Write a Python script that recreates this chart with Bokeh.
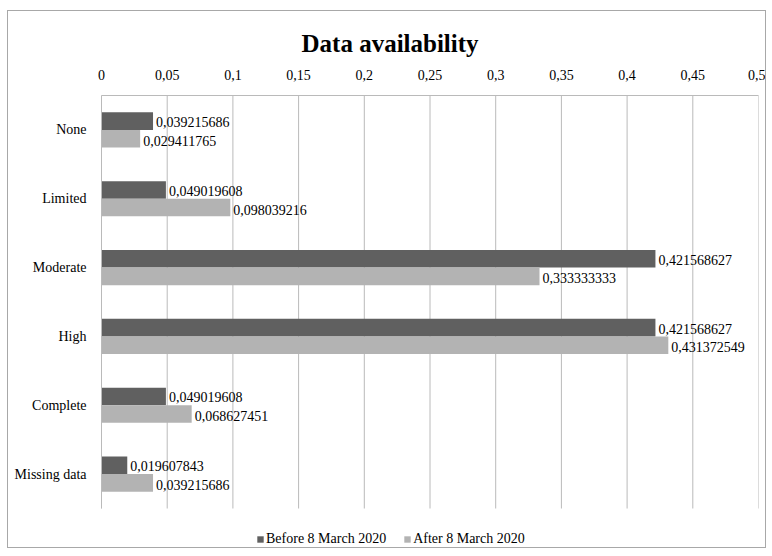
from bokeh.plotting import figure
from bokeh.models import (ColumnDataSource, Range1d, FixedTicker,
                          CustomJSTickFormatter, Legend, LegendItem, Title)
from bokeh.transform import dodge
from bokeh.core.properties import value
from bokeh.embed import file_html
from bokeh.resources import INLINE

categories = ["None", "Limited", "Moderate", "High", "Complete", "Missing data"]
before = [0.039215686, 0.049019608, 0.421568627, 0.421568627, 0.049019608, 0.019607843]
after = [0.029411765, 0.098039216, 0.333333333, 0.431372549, 0.068627451, 0.039215686]
x_ticks = [0, 0.05, 0.1, 0.15, 0.2, 0.25, 0.3, 0.35, 0.4, 0.45, 0.5]
series_names = ["Before 8 March 2020", "After 8 March 2020"]

DARK = "#606060"
LIGHT = "#b3b3b3"
GRID = "#bababa"
FONT = "Liberation Serif"

def fmt(v):
    return f"{v:.9f}".replace(".", ",")

n = len(categories)
pos = [i + 0.5 for i in range(n)]
src = ColumnDataSource(dict(
    pos=pos, before=before, after=after,
    before_lbl=[fmt(v) for v in before], after_lbl=[fmt(v) for v in after],
))
grid_src = ColumnDataSource(dict(x=x_ticks, y0=[0] * len(x_ticks), y1=[n] * len(x_ticks)))

# frame spans the plot band (6 categories) plus a strip below it that holds the legend
legend_strip = 41 / (413 / n)
p = figure(width=759, height=538, y_range=Range1d(n + legend_strip, 0),
           x_range=Range1d(0, 0.5), x_axis_location="above",
           output_backend="svg", toolbar_location=None,
           min_border_left=93, min_border_right=9, min_border_top=84, min_border_bottom=0,
           margin=(10, 0, 0, 7), styles={"border": "1px solid #a8a8a8"})
p.title = None
t = Title(text="Data availability", align="left", offset=200, text_font=FONT,
          text_font_size="25px", text_font_style="bold", text_color="#000000", standoff=20)
p.add_layout(t, "above")

p.segment(x0="x", x1="x", y0="y0", y1="y1", source=grid_src, line_color=GRID, line_width=1)

bh = 0.255
r1 = p.hbar(y=dodge("pos", -bh / 2), right="before", left=0, height=bh,
            source=src, fill_color=DARK, line_color=None)
r2 = p.hbar(y=dodge("pos", bh / 2), right="after", left=0, height=bh,
            source=src, fill_color=LIGHT, line_color=None)

p.text(x="before", y=dodge("pos", -bh / 2), text="before_lbl", source=src,
       x_offset=3, y_offset=1, text_baseline="middle", text_align="left",
       text_font=value(FONT), text_font_size="14px", text_color="#000000")
p.text(x="after", y=dodge("pos", bh / 2), text="after_lbl", source=src,
       x_offset=3, y_offset=2, text_baseline="middle", text_align="left",
       text_font=value(FONT), text_font_size="14px", text_color="#000000")

xa = p.xaxis[0]
xa.ticker = FixedTicker(ticks=x_ticks)
xa.formatter = CustomJSTickFormatter(code="return (Math.round(tick*100)/100).toString().replace('.', ',');")
xa.axis_line_color = GRID
xa.major_tick_line_color = None
xa.minor_tick_line_color = None
xa.major_label_text_font = FONT
xa.major_label_text_font_size = "14px"
xa.major_label_text_color = "#000000"
xa.major_label_standoff = 10

ya = p.yaxis[0]
ya.ticker = FixedTicker(ticks=pos)
ya.major_label_overrides = {pp: c for pp, c in zip(pos, categories)}
ya.bounds = (0, n)
ya.axis_line_color = GRID
ya.major_tick_line_color = None
ya.minor_tick_line_color = None
ya.major_label_text_font = FONT
ya.major_label_text_font_size = "14px"
ya.major_label_text_color = "#000000"
ya.major_label_standoff = 9

p.xgrid.grid_line_color = None
p.ygrid.grid_line_color = None
p.outline_line_color = None

legend = Legend(items=[LegendItem(label=series_names[0], renderers=[r1]),
                       LegendItem(label=series_names[1], renderers=[r2])],
                orientation="horizontal", location=(155, 2),
                glyph_width=8, glyph_height=8, spacing=17, label_standoff=2,
                label_text_font=FONT, label_text_font_size="14px", label_text_color="#000000",
                border_line_color=None, background_fill_alpha=0, padding=2, margin=0)
p.add_layout(legend)

open("out.html", "w").write(file_html(p, INLINE))
